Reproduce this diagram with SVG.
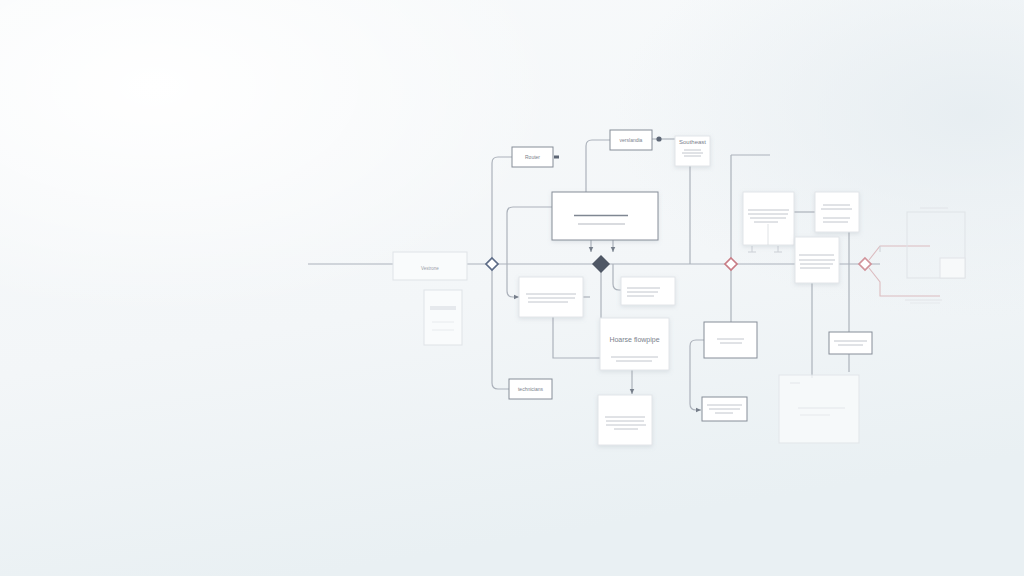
<svg xmlns="http://www.w3.org/2000/svg" width="1024" height="576" viewBox="0 0 1024 576">
<defs>
<linearGradient id="bg" x1="0" y1="0" x2="0.3" y2="1">
<stop offset="0" stop-color="#f8fafb"/>
<stop offset="0.6" stop-color="#f3f6f8"/>
<stop offset="1" stop-color="#e9f0f3"/>
</linearGradient>
<radialGradient id="bg2" cx="0.95" cy="0.2" r="0.35">
<stop offset="0" stop-color="#e6edf1" stop-opacity="0.9"/>
<stop offset="1" stop-color="#e6edf1" stop-opacity="0"/>
</radialGradient>
<radialGradient id="bg3" cx="0.15" cy="0.15" r="0.4">
<stop offset="0" stop-color="#ffffff" stop-opacity="1"/>
<stop offset="1" stop-color="#ffffff" stop-opacity="0"/>
</radialGradient>
<filter id="sh" x="-20%" y="-20%" width="140%" height="140%">
<feDropShadow dx="0" dy="1.5" stdDeviation="2" flood-color="#8a96a3" flood-opacity="0.22"/>
</filter>
<marker id="arr" viewBox="0 0 10 10" refX="9" refY="5" markerWidth="5" markerHeight="5" orient="auto">
<path d="M0,1 L9,5 L0,9 z" fill="#767e8a"/>
</marker>
</defs>
<style>
.ln{fill:none;stroke:#acb2bb;stroke-width:1.2}
.lnd{fill:none;stroke:#ccd0d6;stroke-width:1}
.lnr{fill:none;stroke:#dcbcc0;stroke-width:1.1}
.bx{fill:#ffffff;stroke:#868d98;stroke-width:1}
.cd{fill:#ffffff;stroke:#e2e5e9;stroke-width:1;filter:url(#sh)}
.fb{fill:#f9fbfc;stroke:#dfe3e7;stroke-width:1}
.t{font-family:"Liberation Sans",Arial,sans-serif;font-size:5px;fill:#7a818c;text-anchor:middle}
.tb{font-family:"Liberation Sans",Arial,sans-serif;font-size:7px;fill:#7a818c;text-anchor:middle}
.tf{font-family:"Liberation Sans",Arial,sans-serif;font-size:4.5px;fill:#9aa0a9;text-anchor:middle}
.bar{stroke:#b3b8c0;stroke-width:0.8}
</style>
<rect width="1024" height="576" fill="url(#bg)"/>
<rect width="1024" height="576" fill="url(#bg2)"/>
<rect width="1024" height="576" fill="url(#bg3)"/>

<g id="connectors">
<path class="ln" d="M308,264 H880"/>
<path class="ln" d="M512,157 H498 Q492,157 492,163 V383 Q492,389 498,389 H509"/>
<path class="ln" d="M552,207 H513 Q507,207 507,213 V291 Q507,297 513,297 H519" marker-end="url(#arr)"/>
<path class="ln" d="M586,192 V146 Q586,140 592,140 H610"/>
<path class="ln" d="M652,139 H675"/>
<circle cx="659" cy="139" r="2.6" fill="#5d6675"/>
<path class="ln" d="M690,166 V264"/>
<path class="ln" d="M591,240 V252" marker-end="url(#arr)"/>
<path class="ln" d="M613,240 V252" marker-end="url(#arr)"/>
<path class="ln" d="M601,264 V318"/>
<path class="ln" d="M613,264 V284 Q613,290 619,290 H621"/>
<path class="ln" d="M553,317 V358 H600"/>
<path class="ln" d="M632,370 V394" marker-end="url(#arr)"/>
<path class="ln" d="M583,297 H590"/>
<path class="ln" d="M731,155 H770"/>
<path class="ln" d="M731,155 V264"/>
<path class="ln" d="M731,264 V322"/>
<path class="ln" d="M704,340 H696 Q690,340 690,346 V404 Q690,410 696,410 H701" marker-end="url(#arr)"/>
<path class="ln" d="M794,212 H815"/>
<path class="lnd" d="M752,246 V252 M748,252 H756 M778,246 V252 M774,252 H782"/>
<path class="ln" d="M812,283 V378"/>
<path class="ln" d="M849,232 V332"/>
<path class="ln" d="M849,354 V372"/>
<path class="lnr" d="M869,260 L880,246 H930"/>
<path class="lnr" d="M869,268 L880,282 V296 H940"/>
<path class="lnd" d="M880,246 V252"/>
</g>

<g id="n-diamond-left"><path d="M492,258 L498,264 L492,270 L486,264 Z" fill="#ffffff" stroke="#5b6a86" stroke-width="1.7"/></g>
<g id="n-diamond-mid"><path d="M601,255 L610,264 L601,273 L592,264 Z" fill="#4f5765"/></g>
<g id="n-diamond-r1"><path d="M731,258 L737,264 L731,270 L725,264 Z" fill="#ffffff" stroke="#c97c85" stroke-width="1.7"/></g>
<g id="n-diamond-r2"><path d="M865,258 L871,264 L865,270 L859,264 Z" fill="#ffffff" stroke="#d1939a" stroke-width="1.7"/></g>

<g id="n-router"><rect class="bx" x="512" y="147" width="41" height="20"/><text class="t" x="532.5" y="159">Router</text><rect x="554" y="155.5" width="5" height="3" fill="#5d6675"/></g>
<g id="n-vers"><rect class="bx" x="610" y="130" width="42" height="20"/><text class="t" x="631" y="142">verslandia</text></g>
<g id="n-southeast"><rect class="cd" x="675" y="136" width="35" height="30"/><text class="t" x="692.5" y="144" style="font-size:6px">Southeast</text><line class="bar" x1="684" y1="150" x2="701" y2="150"/><line class="bar" x1="682" y1="153" x2="703" y2="153"/><line class="bar" x1="684" y1="156" x2="701" y2="156"/></g>
<g id="n-main"><rect class="bx" x="552" y="192" width="106" height="48" filter="url(#sh)"/><line x1="574" y1="215.5" x2="628" y2="215.5" stroke="#7f8792" stroke-width="1.4"/><line x1="578" y1="224" x2="625" y2="224" stroke="#b3b8c0" stroke-width="1.1"/></g>
<g id="n-left-faint"><rect class="fb" x="393" y="252" width="74" height="28"/><text class="tf" x="430" y="270">Vestrone</text></g>
<g id="n-doc-faint"><rect class="fb" x="424" y="290" width="38" height="55"/><rect x="430" y="306" width="26" height="4" fill="#e6e9ed"/><line x1="432" y1="322" x2="454" y2="322" stroke="#e8ebee"/><line x1="432" y1="330" x2="454" y2="330" stroke="#e8ebee"/></g>
<g id="n-b6"><rect class="cd" x="519" y="277" width="64" height="40"/><line class="bar" x1="526" y1="294" x2="576" y2="294"/><line class="bar" x1="528" y1="298" x2="575" y2="298"/><line class="bar" x1="528" y1="302" x2="568" y2="302"/></g>
<g id="n-b7"><rect class="cd" x="621" y="277" width="54" height="28"/><line class="bar" x1="627" y1="288" x2="660" y2="288"/><line class="bar" x1="627" y1="292" x2="658" y2="292"/><line class="bar" x1="627" y1="296" x2="654" y2="296"/></g>
<g id="n-b8"><rect class="cd" x="600" y="318" width="69" height="52"/><text class="tb" x="634.5" y="342">Hoarse flowpipe</text><line class="bar" x1="611" y1="357" x2="658" y2="357"/><line class="bar" x1="616" y1="361" x2="652" y2="361"/></g>
<g id="n-b9"><rect class="bx" x="509" y="379" width="43" height="20"/><text class="t" x="530.5" y="391">technicians</text></g>
<g id="n-b10"><rect class="cd" x="598" y="395" width="54" height="50"/><line class="bar" x1="605" y1="417" x2="645" y2="417"/><line class="bar" x1="606" y1="421" x2="644" y2="421"/><line class="bar" x1="606" y1="425" x2="646" y2="425"/><line class="bar" x1="614" y1="429" x2="638" y2="429"/></g>
<g id="n-b11"><rect class="cd" x="743" y="192" width="51" height="53"/><line class="bar" x1="748" y1="210" x2="789" y2="210"/><line class="bar" x1="748" y1="214" x2="788" y2="214"/><line class="bar" x1="750" y1="218" x2="786" y2="218"/><line class="bar" x1="754" y1="222" x2="778" y2="222"/><line x1="768" y1="224" x2="768" y2="245" stroke="#d8dce0" stroke-width="0.8"/></g>
<g id="n-b12"><rect class="cd" x="815" y="192" width="44" height="40"/><line class="bar" x1="823" y1="205" x2="850" y2="205" stroke-width="0.7"/><line class="bar" x1="821" y1="209" x2="852" y2="209" stroke-width="0.7"/><line class="bar" x1="823" y1="218" x2="850" y2="218" stroke-width="0.7"/><line class="bar" x1="823" y1="222" x2="848" y2="222" stroke-width="0.7"/></g>
<g id="n-b13"><rect class="cd" x="795" y="237" width="44" height="46"/><line class="bar" x1="799" y1="255" x2="834" y2="255"/><line class="bar" x1="799" y1="260" x2="835" y2="260"/><line class="bar" x1="800" y1="264" x2="833" y2="264"/><line class="bar" x1="800" y1="268" x2="830" y2="268"/></g>
<g id="n-b14"><rect class="bx" x="704" y="322" width="53" height="36"/><line class="bar" x1="717" y1="339" x2="744" y2="339"/><line class="bar" x1="720" y1="343" x2="742" y2="343"/></g>
<g id="n-b15"><rect class="bx" x="702" y="397" width="45" height="24"/><line class="bar" x1="707" y1="405" x2="742" y2="405"/><line class="bar" x1="709" y1="409" x2="740" y2="409"/><line class="bar" x1="715" y1="413" x2="733" y2="413"/></g>
<g id="n-b16"><rect class="bx" x="829" y="332" width="43" height="22"/><line class="bar" x1="834" y1="341" x2="867" y2="341"/><line class="bar" x1="838" y1="345" x2="863" y2="345"/></g>
<g id="n-b17"><rect class="fb" x="779" y="375" width="80" height="68" opacity="0.8"/><line x1="790" y1="383" x2="800" y2="383" stroke="#e3e6ea"/><line x1="798" y1="408" x2="845" y2="408" stroke="#e3e6ea"/><line x1="800" y1="415" x2="830" y2="415" stroke="#e6e9ec"/></g>
<g id="n-right-faint"><rect x="907" y="212" width="58" height="66" fill="none" stroke="#dfe3e7"/><line x1="920" y1="208" x2="948" y2="208" stroke="#e1e4e8"/><rect x="940" y="258" width="25" height="20" fill="#f7f9fa" stroke="#e1e4e8"/><line x1="905" y1="300" x2="942" y2="300" stroke="#e1e4e8"/><line x1="910" y1="303" x2="940" y2="303" stroke="#e6e9ec"/></g>
</svg>
